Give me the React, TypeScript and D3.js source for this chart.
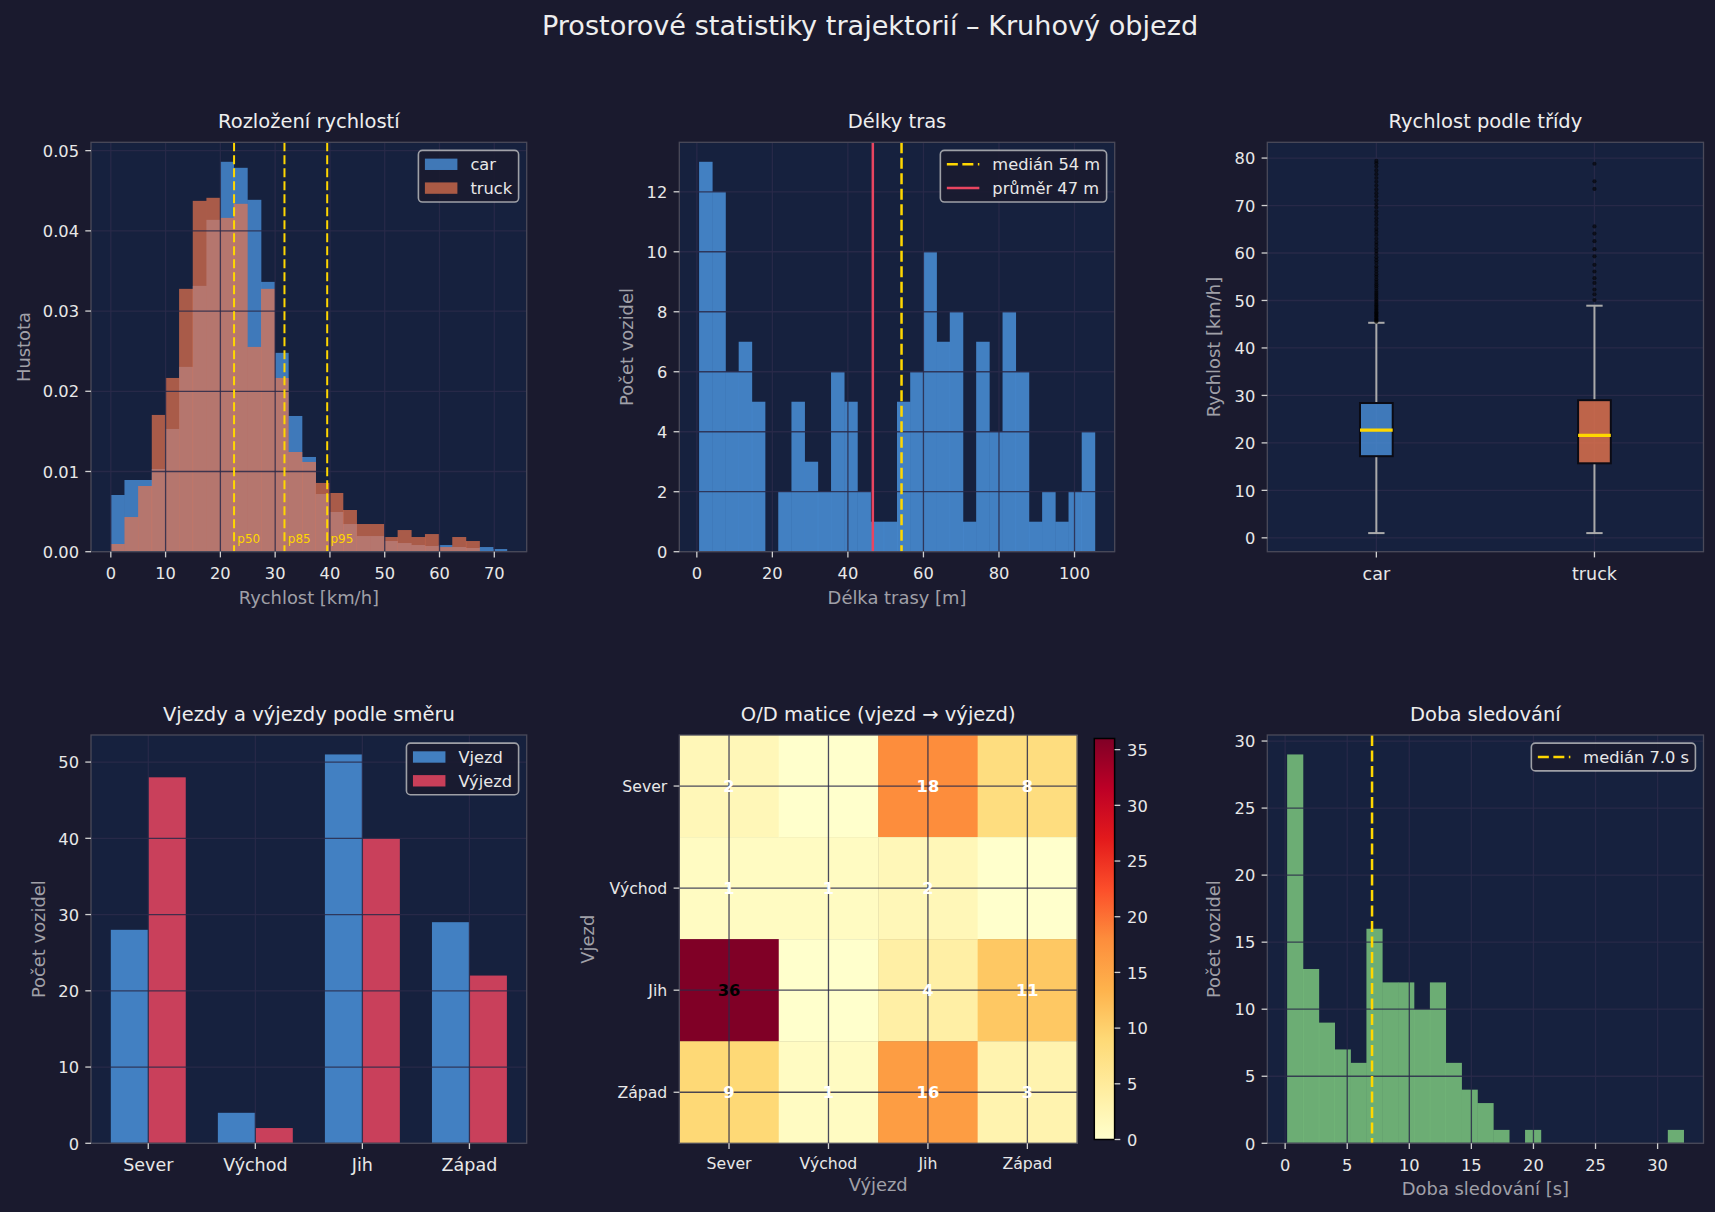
import React from 'react';
import * as d3 from 'd3';

// ---------------- DATA ----------------
const speedRange = [0, 72.3];
const speedCar = [0.00707, 0.00894, 0.00894, 0.01031, 0.0153, 0.02304, 0.03314, 0.04137, 0.04861, 0.04786, 0.04387, 0.03364, 0.02479, 0.01692, 0.01181, 0.00719, 0.00495, 0.00345, 0.00195, 0.00195, 0.00133, 0.00108, 0.00083, 0.00071, 0.00083, 0.00058, 0.00046, 0.00058, 0.00033];
const speedTruck = [0.00096, 0.00432, 0.00819, 0.01705, 0.02166, 0.03277, 0.04374, 0.04412, 0.04162, 0.04337, 0.02553, 0.03277, 0.02166, 0.01243, 0.01119, 0.00857, 0.00732, 0.0052, 0.00345, 0.00345, 0.00183, 0.0027, 0.00183, 0.0022, 0.00058, 0.00183, 0.00133, 0, 0];
const speedXTicks = [0, 10, 20, 30, 40, 50, 60, 70];
const speedYTicks = [0, 0.01, 0.02, 0.03, 0.04, 0.05];
const speedPercentiles = [
  { label: 'p50', value: 22.5 },
  { label: 'p85', value: 31.7 },
  { label: 'p95', value: 39.5 },
];

const lengthRange = [0.6, 105.4];
const lengthCounts = [13, 12, 6, 7, 5, 0, 2, 5, 3, 2, 6, 5, 2, 1, 1, 5, 6, 10, 7, 8, 1, 7, 4, 8, 6, 1, 2, 1, 2, 4];
const lengthMedian = 54.2;
const lengthMean = 46.6;
const lengthXTicks = [0, 20, 40, 60, 80, 100];
const lengthYTicks = [0, 2, 4, 6, 8, 10, 12];

const classes = ['car', 'truck'];
const boxStats = [
  { q1: 17.2, med: 22.7, q3: 28.4, lo: 1.0, hi: 45.3 },
  { q1: 15.7, med: 21.6, q3: 29.0, lo: 1.0, hi: 48.9 },
];
const carFliers = [45.5, 45.7, 45.9, 46.1, 46.3, 46.6, 46.8, 47.0, 47.3, 47.5, 47.8, 48.1, 48.4, 48.7, 49.0, 49.3, 49.7, 50.0, 50.4, 50.8, 51.2, 51.6, 52.0, 52.5, 53.0, 53.4, 53.9, 54.4, 55.0, 55.5, 56.1, 56.7, 57.2, 57.9, 58.5, 59.1, 59.8, 60.4, 61.0, 61.7, 62.3, 63.0, 63.8, 64.5, 65.1, 65.9, 66.6, 67.3, 68.1, 68.8, 69.6, 70.3, 71.1, 71.9, 72.6, 73.4, 74.2, 75.0, 75.8, 76.6, 77.4, 78.2, 78.9, 79.4];
const truckFliers = [50.1, 51.3, 52.3, 53.7, 54.7, 56.1, 57.5, 59.3, 60.8, 62.5, 64.1, 65.6, 73.5, 75.1, 78.8];
const boxYTicks = [0, 10, 20, 30, 40, 50, 60, 70, 80];

const directions = ['Sever', 'Východ', 'Jih', 'Západ'];
const entries = [28, 4, 51, 29];
const exits = [48, 2, 40, 22];
const flowYTicks = [0, 10, 20, 30, 40, 50];

const odMatrix = [
  [2, 0, 18, 8],
  [1, 1, 2, 0],
  [36, 0, 4, 11],
  [9, 1, 16, 3],
];
const colorbarTicks = [0, 5, 10, 15, 20, 25, 30, 35];
const ylOrRd = ['#ffffcc', '#ffeda0', '#fed976', '#feb24c', '#fd8d3c', '#fc4e2a', '#e31a1c', '#bd0026', '#800026'];

const durationRange = [0.16, 32.1];
const durationCounts = [29, 13, 9, 7, 6, 16, 12, 12, 10, 12, 6, 4, 3, 1, 0, 1, 0, 0, 0, 0, 0, 0, 0, 0, 1];
const durationMedian = 7.0;
const durationXTicks = [0, 5, 10, 15, 20, 25, 30];
const durationYTicks = [0, 5, 10, 15, 20, 25, 30];

// ---------------- STYLE / LAYOUT ----------------
const W = 1715;
const H = 1212;
const FONT = '"DejaVu Sans", "Liberation Sans", sans-serif';
const C = {
  fig: '#1a1a2e',
  face: '#16213e',
  grid: '#2a2a4a',
  spine: '#4a4a5a',
  tick: '#d0d0d0',
  tickLabel: '#e8e8e8',
  label: '#a0a0a8',
  title: '#eeeeee',
  blue: '#4a90d9',
  truck: '#e8754e',
  red: '#e94560',
  gold: '#ffd700',
  green: '#7bc67e',
  whisker: '#aaaaaa',
};
const FS = { tick: 16.25, cat: 17.5, hm: 15.7, title: 19.5, label: 17.9, legend: 16.25, sup: 27.1, pct: 12 };
const TL = 5.7; // tick length

const P1 = { l: 91, r: 526.7, t: 142.3, b: 551.7 };
const P2 = { l: 679.3, r: 1114.7, t: 142.3, b: 551.7 };
const P3 = { l: 1267.3, r: 1703.5, t: 142.3, b: 551.7 };
const P4 = { l: 91, r: 526.7, t: 735, b: 1143.3 };
const P5 = { l: 679.3, r: 1077.1, t: 735, b: 1143.3 };
const CB = { l: 1094.3, r: 1114.6, t: 738.5, b: 1139.5 };
const P6 = { l: 1267.3, r: 1703.5, t: 735, b: 1143.3 };

const padDomain = (a: number, b: number) => {
  const r = b - a;
  return [a - 0.05 * r, b + 0.05 * r];
};

let measureCtx: any = null;
function textWidth(s: string, size: number) {
  if (!measureCtx && typeof document !== 'undefined') {
    measureCtx = document.createElement('canvas').getContext('2d');
  }
  if (!measureCtx) return s.length * size * 0.6;
  measureCtx.font = `${size}px "DejaVu Sans"`;
  return measureCtx.measureText(s).width;
}

// ---------------- HELPERS ----------------
function Face({ p }: any) {
  return <rect x={p.l} y={p.t} width={p.r - p.l} height={p.b - p.t} fill={C.face} />;
}
function Spines({ p }: any) {
  return <rect x={p.l} y={p.t} width={p.r - p.l} height={p.b - p.t} fill="none" stroke={C.spine} strokeWidth={1.3} />;
}
function GridX({ p, xs }: any) {
  return (
    <g>
      {xs.map((x: number, i: number) => (
        <line key={i} x1={x} x2={x} y1={p.t} y2={p.b} stroke={C.grid} strokeOpacity={0.85} strokeWidth={1.3} />
      ))}
    </g>
  );
}
function GridY({ p, ys }: any) {
  return (
    <g>
      {ys.map((y: number, i: number) => (
        <line key={i} x1={p.l} x2={p.r} y1={y} y2={y} stroke={C.grid} strokeOpacity={0.85} strokeWidth={1.3} />
      ))}
    </g>
  );
}
function XTicks({ p, items, size = FS.tick, dy = 27.6 }: any) {
  return (
    <g>
      {items.map((it: any, i: number) => (
        <g key={i}>
          <line x1={it.x} x2={it.x} y1={p.b} y2={p.b + TL} stroke={C.tick} strokeWidth={1.3} />
          <text x={it.x} y={p.b + dy} textAnchor="middle" fontSize={size} fill={C.tickLabel} fontFamily={FONT}>
            {it.label}
          </text>
        </g>
      ))}
    </g>
  );
}
function YTicks({ p, items, size = FS.tick }: any) {
  return (
    <g>
      {items.map((it: any, i: number) => (
        <g key={i}>
          <line x1={p.l - TL} x2={p.l} y1={it.y} y2={it.y} stroke={C.tick} strokeWidth={1.3} />
          <text x={p.l - 12} y={it.y + 6.2} textAnchor="end" fontSize={size} fill={C.tickLabel} fontFamily={FONT}>
            {it.label}
          </text>
        </g>
      ))}
    </g>
  );
}
function Title({ p, text }: any) {
  return (
    <text x={(p.l + p.r) / 2} y={p.t - 14.3} textAnchor="middle" fontSize={FS.title} fill={C.title} fontFamily={FONT}>
      {text}
    </text>
  );
}
function XLabel({ p, text, dy = 52 }: any) {
  return (
    <text x={(p.l + p.r) / 2} y={p.b + dy} textAnchor="middle" fontSize={FS.label} fill={C.label} fontFamily={FONT}>
      {text}
    </text>
  );
}
function YLabel({ p, text, x }: any) {
  const cy = (p.t + p.b) / 2;
  return (
    <text x={x} y={cy} transform={`rotate(-90 ${x} ${cy})`} textAnchor="middle" fontSize={FS.label} fill={C.label} fontFamily={FONT}>
      {text}
    </text>
  );
}
function Legend({ p, items }: any) {
  const fs = FS.legend;
  const tw = Math.max(...items.map((it: any) => textWidth(it.label, fs)));
  const pad = 0.4 * fs;
  const hl = 2 * fs;
  const htp = 0.8 * fs;
  const w = pad + hl + htp + tw + pad;
  const rowH = 23.8;
  const h = 27.8 + (items.length - 1) * rowH;
  const x = p.r - 8.1 - w;
  const y = p.t + 8.1;
  return (
    <g>
      <rect x={x} y={y} width={w} height={h} rx={4} fill={C.fig} fillOpacity={0.85} stroke="#cccccc" strokeOpacity={0.75} strokeWidth={1.6} />
      {items.map((it: any, i: number) => {
        const cy = y + 13.9 + i * rowH;
        const hx = x + pad;
        return (
          <g key={i}>
            {it.kind === 'patch' ? (
              <rect x={hx} y={cy - 0.35 * fs} width={hl} height={0.7 * fs} fill={it.color} fillOpacity={it.opacity} />
            ) : (
              <line x1={hx} x2={hx + hl} y1={cy} y2={cy} stroke={it.color} strokeWidth={2.5} strokeDasharray={it.kind === 'dash' ? '11,4.5' : undefined} />
            )}
            <text x={hx + hl + htp} y={cy + 5.9} fontSize={fs} fill={C.tickLabel} fontFamily={FONT}>
              {it.label}
            </text>
          </g>
        );
      })}
    </g>
  );
}
function histRects(range: number[], values: number[], sx: any, sy: any) {
  const n = values.length;
  const w = (range[1] - range[0]) / n;
  return values.map((v, i) => {
    const x0 = range[0] + i * w;
    const x1 = x0 + w;
    return { x: sx(x0), w: sx(x1) - sx(x0), y: sy(v), h: sy(0) - sy(v) };
  });
}

// ---------------- PANELS ----------------
function SpeedPanel() {
  const p = P1;
  const sx = d3.scaleLinear().domain(padDomain(speedRange[0], speedRange[1])).range([p.l, p.r]);
  const ymax = (d3.max([...speedCar, ...speedTruck]) as number) * 1.05;
  const sy = d3.scaleLinear().domain([0, ymax]).range([p.b, p.t]);
  const car = histRects(speedRange, speedCar, sx, sy);
  const truck = histRects(speedRange, speedTruck, sx, sy);
  const fmt = d3.format('.2f');
  return (
    <g>
      <Face p={p} />
      {car.map((r, i) => (
        <rect key={'c' + i} x={r.x} y={r.y} width={r.w + 0.3} height={r.h} fill={C.blue} fillOpacity={0.8} />
      ))}
      {truck.map((r, i) => (
        <rect key={'t' + i} x={r.x} y={r.y} width={r.w + 0.3} height={r.h} fill={C.truck} fillOpacity={0.7} />
      ))}
      <GridX p={p} xs={speedXTicks.map((t) => sx(t))} />
      <GridY p={p} ys={speedYTicks.map((t) => sy(t))} />
      {speedPercentiles.map((q, i) => (
        <g key={i}>
          <line x1={sx(q.value)} x2={sx(q.value)} y1={p.t} y2={p.b} stroke={C.gold} strokeWidth={2} strokeDasharray="9,4" />
          <text x={sx(q.value) + 3.3} y={p.b - 8.3} fontSize={FS.pct} fill={C.gold} fontFamily={FONT}>
            {q.label}
          </text>
        </g>
      ))}
      <Spines p={p} />
      <XTicks p={p} items={speedXTicks.map((t) => ({ x: sx(t), label: String(t) }))} />
      <YTicks p={p} items={speedYTicks.map((t) => ({ y: sy(t), label: fmt(t) }))} />
      <Title p={p} text="Rozložení rychlostí" />
      <XLabel p={p} text="Rychlost [km/h]" />
      <YLabel p={p} text="Hustota" x={30} />
      <Legend
        p={p}
        items={[
          { kind: 'patch', color: C.blue, opacity: 0.8, label: 'car' },
          { kind: 'patch', color: C.truck, opacity: 0.7, label: 'truck' },
        ]}
      />
    </g>
  );
}

function LengthPanel() {
  const p = P2;
  const sx = d3.scaleLinear().domain(padDomain(lengthRange[0], lengthRange[1])).range([p.l, p.r]);
  const sy = d3.scaleLinear().domain([0, (d3.max(lengthCounts) as number) * 1.05]).range([p.b, p.t]);
  const bars = histRects(lengthRange, lengthCounts, sx, sy);
  return (
    <g>
      <Face p={p} />
      {bars.map((r, i) => (
        <rect key={i} x={r.x} y={r.y} width={r.w + 0.3} height={r.h} fill={C.blue} fillOpacity={0.85} />
      ))}
      <GridX p={p} xs={lengthXTicks.map((t) => sx(t))} />
      <GridY p={p} ys={lengthYTicks.map((t) => sy(t))} />
      <line x1={sx(lengthMedian)} x2={sx(lengthMedian)} y1={p.t} y2={p.b} stroke={C.gold} strokeWidth={2.5} strokeDasharray="11,4.5" />
      <line x1={sx(lengthMean)} x2={sx(lengthMean)} y1={p.t} y2={p.b} stroke={C.red} strokeWidth={2.5} />
      <Spines p={p} />
      <XTicks p={p} items={lengthXTicks.map((t) => ({ x: sx(t), label: String(t) }))} />
      <YTicks p={p} items={lengthYTicks.map((t) => ({ y: sy(t), label: String(t) }))} />
      <Title p={p} text="Délky tras" />
      <XLabel p={p} text="Délka trasy [m]" />
      <YLabel p={p} text="Počet vozidel" x={633} />
      <Legend
        p={p}
        items={[
          { kind: 'dash', color: C.gold, label: `medián ${Math.round(lengthMedian)} m` },
          { kind: 'line', color: C.red, label: `průměr ${Math.round(lengthMean)} m` },
        ]}
      />
    </g>
  );
}

function BoxPanel() {
  const p = P3;
  const sx = d3.scaleLinear().domain([0.5, 2.5]).range([p.l, p.r]);
  const allLo = d3.min(boxStats, (b) => b.lo) as number;
  const allHi = d3.max([...carFliers, ...truckFliers]) as number;
  const sy = d3.scaleLinear().domain(padDomain(allLo, allHi)).range([p.b, p.t]);
  const fliers = [carFliers, truckFliers];
  const fills = [C.blue, C.truck];
  const bw = 0.15;
  return (
    <g>
      <Face p={p} />
      <GridX p={p} xs={classes.map((_, i) => sx(i + 1))} />
      <GridY p={p} ys={boxYTicks.map((t) => sy(t))} />
      {boxStats.map((b, i) => {
        const cx = sx(i + 1);
        const hw = sx(1 + bw / 2) - sx(1);
        const cw = hw / 2;
        return (
          <g key={i}>
            <line x1={cx} x2={cx} y1={sy(b.q3)} y2={sy(b.hi)} stroke={C.whisker} strokeWidth={2} />
            <line x1={cx} x2={cx} y1={sy(b.q1)} y2={sy(b.lo)} stroke={C.whisker} strokeWidth={2} />
            <line x1={cx - cw} x2={cx + cw} y1={sy(b.hi)} y2={sy(b.hi)} stroke={C.whisker} strokeWidth={2} />
            <line x1={cx - cw} x2={cx + cw} y1={sy(b.lo)} y2={sy(b.lo)} stroke={C.whisker} strokeWidth={2} />
            <rect x={cx - hw} y={sy(b.q3)} width={2 * hw} height={sy(b.q1) - sy(b.q3)} fill={fills[i]} fillOpacity={0.8} stroke="#0b0b14" strokeWidth={2} />
            <line x1={cx - hw} x2={cx + hw} y1={sy(b.med)} y2={sy(b.med)} stroke={C.gold} strokeWidth={3.2} />
            {fliers[i].map((v, j) => (
              <circle key={j} cx={cx} cy={sy(v)} r={2.1} fill="#000" fillOpacity={0.6} />
            ))}
          </g>
        );
      })}
      <Spines p={p} />
      <XTicks p={p} items={classes.map((c, i) => ({ x: sx(i + 1), label: c }))} size={FS.cat} dy={28} />
      <YTicks p={p} items={boxYTicks.map((t) => ({ y: sy(t), label: String(t) }))} />
      <Title p={p} text="Rychlost podle třídy" />
      <YLabel p={p} text="Rychlost [km/h]" x={1220} />
    </g>
  );
}

function FlowPanel() {
  const p = P4;
  const bw = 0.35;
  const sx = d3.scaleLinear().domain(padDomain(-bw, directions.length - 1 + bw)).range([p.l, p.r]);
  const ymax = (d3.max([...entries, ...exits]) as number) * 1.05;
  const sy = d3.scaleLinear().domain([0, ymax]).range([p.b, p.t]);
  return (
    <g>
      <Face p={p} />
      {directions.map((d, i) => (
        <g key={d}>
          <rect x={sx(i - bw)} y={sy(entries[i])} width={sx(i) - sx(i - bw)} height={sy(0) - sy(entries[i])} fill={C.blue} fillOpacity={0.85} />
          <rect x={sx(i)} y={sy(exits[i])} width={sx(i + bw) - sx(i)} height={sy(0) - sy(exits[i])} fill={C.red} fillOpacity={0.85} />
        </g>
      ))}
      <GridX p={p} xs={directions.map((_, i) => sx(i))} />
      <GridY p={p} ys={flowYTicks.map((t) => sy(t))} />
      <Spines p={p} />
      <XTicks p={p} items={directions.map((d, i) => ({ x: sx(i), label: d }))} size={FS.cat} dy={28} />
      <YTicks p={p} items={flowYTicks.map((t) => ({ y: sy(t), label: String(t) }))} />
      <Title p={p} text="Vjezdy a výjezdy podle směru" />
      <YLabel p={p} text="Počet vozidel" x={45.5} />
      <Legend
        p={p}
        items={[
          { kind: 'patch', color: C.blue, opacity: 0.85, label: 'Vjezd' },
          { kind: 'patch', color: C.red, opacity: 0.85, label: 'Výjezd' },
        ]}
      />
    </g>
  );
}

function ODPanel() {
  const p = P5;
  const sx = d3.scaleBand().domain(directions).range([p.l, p.r]).padding(0);
  const sy = d3.scaleBand().domain(directions).range([p.t, p.b]).padding(0);
  const vmax = d3.max(odMatrix.flat()) as number;
  const stops = ylOrRd.map((_, i) => (i * vmax) / (ylOrRd.length - 1));
  const color = d3.scaleLinear<string>().domain(stops).range(ylOrRd).interpolate(d3.interpolateRgb);
  const cy = d3.scaleLinear().domain([0, vmax]).range([CB.b, CB.t]);
  const bwX = sx.bandwidth();
  const bwY = sy.bandwidth();
  return (
    <g>
      <defs>
        <linearGradient id="ylorrd" x1="0" y1="1" x2="0" y2="0">
          {ylOrRd.map((c, i) => (
            <stop key={i} offset={i / (ylOrRd.length - 1)} stopColor={c} />
          ))}
        </linearGradient>
      </defs>
      <Face p={p} />
      {odMatrix.map((row, ri) =>
        row.map((v, ci) => (
          <rect key={ri + '-' + ci} x={sx(directions[ci])} y={sy(directions[ri])} width={bwX + 0.4} height={bwY + 0.4} fill={color(v)} />
        ))
      )}
      <GridX p={p} xs={directions.map((d) => (sx(d) as number) + bwX / 2)} />
      <GridY p={p} ys={directions.map((d) => (sy(d) as number) + bwY / 2)} />
      {odMatrix.map((row, ri) =>
        row.map((v, ci) =>
          v > 0 ? (
            <text
              key={'t' + ri + '-' + ci}
              x={(sx(directions[ci]) as number) + bwX / 2}
              y={(sy(directions[ri]) as number) + bwY / 2 + 6}
              textAnchor="middle"
              fontSize={FS.tick}
              fontWeight="bold"
              fill={v > vmax * 0.6 ? '#000000' : '#ffffff'}
              fontFamily={FONT}
            >
              {v}
            </text>
          ) : null
        )
      )}
      <Spines p={p} />
      <XTicks p={p} items={directions.map((d) => ({ x: (sx(d) as number) + bwX / 2, label: d }))} size={FS.hm} dy={26} />
      <YTicks p={p} items={directions.map((d) => ({ y: (sy(d) as number) + bwY / 2, label: d }))} size={FS.hm} />
      <Title p={p} text="O/D matice (vjezd → výjezd)" />
      <XLabel p={p} text="Výjezd" dy={48} />
      <YLabel p={p} text="Vjezd" x={594} />
      {/* colorbar */}
      <rect x={CB.l} y={CB.t} width={CB.r - CB.l} height={CB.b - CB.t} fill="url(#ylorrd)" stroke="#000" strokeWidth={1.5} />
      {colorbarTicks.map((t) => (
        <g key={t}>
          <line x1={CB.r} x2={CB.r + TL} y1={cy(t)} y2={cy(t)} stroke={C.tick} strokeWidth={1.3} />
          <text x={CB.r + 12.5} y={cy(t) + 6.2} fontSize={FS.tick} fill={C.tickLabel} fontFamily={FONT}>
            {t}
          </text>
        </g>
      ))}
    </g>
  );
}

function DurationPanel() {
  const p = P6;
  const sx = d3.scaleLinear().domain(padDomain(durationRange[0], durationRange[1])).range([p.l, p.r]);
  const sy = d3.scaleLinear().domain([0, (d3.max(durationCounts) as number) * 1.05]).range([p.b, p.t]);
  const bars = histRects(durationRange, durationCounts, sx, sy);
  return (
    <g>
      <Face p={p} />
      {bars.map((r, i) => (
        <rect key={i} x={r.x} y={r.y} width={r.w + 0.3} height={r.h} fill={C.green} fillOpacity={0.85} />
      ))}
      <GridX p={p} xs={durationXTicks.map((t) => sx(t))} />
      <GridY p={p} ys={durationYTicks.map((t) => sy(t))} />
      <line x1={sx(durationMedian)} x2={sx(durationMedian)} y1={p.t} y2={p.b} stroke={C.gold} strokeWidth={2.5} strokeDasharray="11,4.5" />
      <Spines p={p} />
      <XTicks p={p} items={durationXTicks.map((t) => ({ x: sx(t), label: String(t) }))} />
      <YTicks p={p} items={durationYTicks.map((t) => ({ y: sy(t), label: String(t) }))} />
      <Title p={p} text="Doba sledování" />
      <XLabel p={p} text="Doba sledování [s]" />
      <YLabel p={p} text="Počet vozidel" x={1220} />
      <Legend p={p} items={[{ kind: 'dash', color: C.gold, label: `medián ${durationMedian.toFixed(1)} s` }]} />
    </g>
  );
}

export default function App() {
  return (
    <svg
      width={W}
      height={H}
      viewBox={`0 0 ${W} ${H}`}
      style={{ position: 'absolute', left: 0, top: 0, display: 'block' }}
      fontFamily={FONT}
    >
      <rect x={0} y={0} width={W} height={H} fill={C.fig} />
      <text x={870} y={35} textAnchor="middle" fontSize={FS.sup} fill={C.title} fontFamily={FONT}>
        Prostorové statistiky trajektorií – Kruhový objezd
      </text>
      <SpeedPanel />
      <LengthPanel />
      <BoxPanel />
      <FlowPanel />
      <ODPanel />
      <DurationPanel />
    </svg>
  );
}
